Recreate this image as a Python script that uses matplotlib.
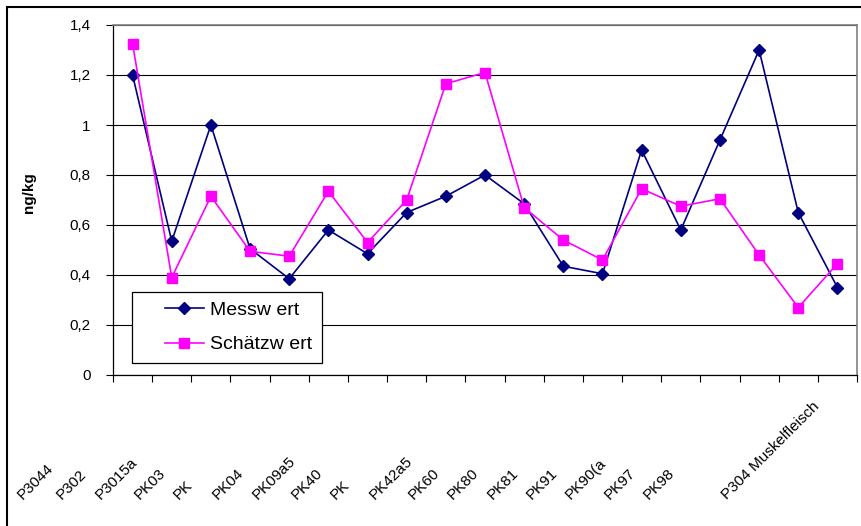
import matplotlib
matplotlib.use("Agg")
import matplotlib.pyplot as plt
import matplotlib.transforms as mtransforms
from matplotlib.patches import Rectangle
from matplotlib.ticker import FuncFormatter
from matplotlib.legend_handler import HandlerLine2D
import numpy as np

plt.rcParams['font.family'] = ['Liberation Sans', 'DejaVu Sans']

samples = ["P3044", "P302", "P3015a", "PK03", "PK", "PK04", "PK09a5",
           "PK40", "PK", "PK42a5", "PK60", "PK80", "PK81", "PK91",
           "PK90(a", "PK97", "PK98", "", "P304 Muskelfleisch"]
messwert = [1.20, 0.535, 1.00, 0.505, 0.385, 0.58, 0.485, 0.65, 0.715,
            0.80, 0.685, 0.435, 0.405, 0.90, 0.58, 0.94, 1.30, 0.65, 0.35]
schaetzwert = [1.325, 0.39, 0.715, 0.495, 0.475, 0.735, 0.53, 0.70, 1.165,
               1.21, 0.67, 0.54, 0.46, 0.745, 0.675, 0.705, 0.48, 0.27, 0.445]

W, H = 862, 526
fig = plt.figure(figsize=(W / 100, H / 100), dpi=100)
ax = fig.add_axes([113 / W, 1 - 375 / H, (857 - 113) / W, (375 - 25) / H])

# outer chart frame (runs off the right and bottom edge)
fig.patches.append(Rectangle((7 / W, -0.5), 2, 1.5 - 7 / H, transform=fig.transFigure,
                             fill=False, edgecolor='black', linewidth=1.5))

x = np.arange(len(samples))
ax.plot(x, messwert, color='#000080', marker='D', markersize=6.5, linewidth=1.2,
        label='Messw ert', zorder=3)
ax.plot(x, schaetzwert, color='#FF00FF', marker='s', markersize=6.5, linewidth=1.2,
        label='Schätzw ert', zorder=3)

ax.set_xlim(-0.5, len(samples) - 0.5)
ax.set_ylim(0, 1.4)
ax.set_yticks(np.arange(0, 1.41, 0.2))
ax.yaxis.set_major_formatter(FuncFormatter(lambda v, p: ('%g' % round(v, 1)).replace('.', ',')))
ax.set_xticks(np.arange(-0.5, len(samples)))
ax.set_xticklabels([])
ax.tick_params(axis='both', direction='out', length=5, width=0.8, colors='black',
               labelsize=11)
ax.tick_params(axis='y', pad=11)
ax.grid(axis='y', color='black', linewidth=0.8)
ax.set_axisbelow(True)

for side in ['top', 'right']:
    ax.spines[side].set_color('#808080')
    ax.spines[side].set_linewidth(1.2)
for side in ['left', 'bottom']:
    ax.spines[side].set_color('black')
    ax.spines[side].set_linewidth(0.9)

ax.set_ylabel('ng/kg', fontsize=11, fontweight='bold')
ax.yaxis.set_label_coords(-0.104, 0.52)

# rotated category labels, shifted down-left like the original
base = mtransforms.blended_transform_factory(ax.transData, ax.transAxes)
lbl_tr = mtransforms.offset_copy(base, fig=fig, x=-108 * 0.72, y=-127 * 0.72, units='points')
for i, s in enumerate(samples):
    ax.text(i, 0, s, transform=lbl_tr, rotation=45, rotation_mode='anchor',
            ha='left', va='bottom', fontsize=11, clip_on=False)

leg = ax.legend(loc='lower left', bbox_to_anchor=(0.0255, 0.034), borderaxespad=0,
                fancybox=False, edgecolor='black', framealpha=1, fontsize=14,
                handlelength=3.2, handletextpad=0.3, labelspacing=0.85, borderpad=0.5,
                handler_map={plt.Line2D: HandlerLine2D(xpad=1.2)})
leg.get_frame().set_linewidth(0.9)

fig.savefig('out.png', dpi=100)
